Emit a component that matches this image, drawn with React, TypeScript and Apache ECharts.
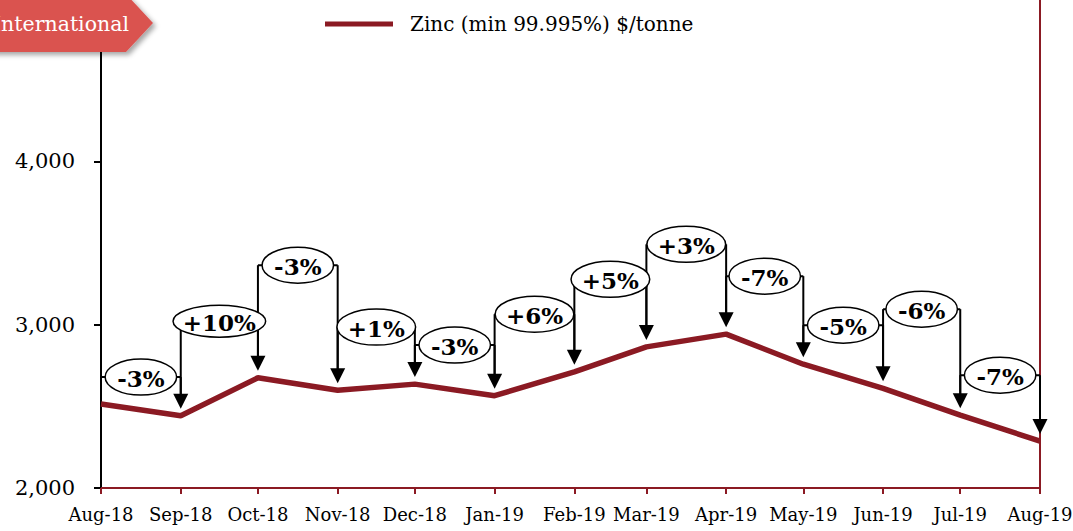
import React, { useEffect, useRef } from 'react';
import * as echarts from 'echarts';

// ---- data ----
const monthLabels = ['Aug-18', 'Sep-18', 'Oct-18', 'Nov-18', 'Dec-18', 'Jan-19', 'Feb-19', 'Mar-19', 'Apr-19', 'May-19', 'Jun-19', 'Jul-19', 'Aug-19'];
const monthYear: [number, number][] = [
  [2018, 7], [2018, 8], [2018, 9], [2018, 10], [2018, 11], [2019, 0], [2019, 1],
  [2019, 2], [2019, 3], [2019, 4], [2019, 5], [2019, 6], [2019, 7],
];
const zincPrices = [2514, 2442, 2675, 2599, 2636, 2565, 2711, 2864, 2942, 2758, 2610, 2446, 2287];
const changeLabels = ['-3%', '+10%', '-3%', '+1%', '-3%', '+6%', '+5%', '+3%', '-7%', '-5%', '-6%', '-7%'];
const bracketLevels = [2679, 3021, 3364, 2985, 2875, 3064, 3278, 3492, 3297, 2997, 3095, 2691];
const yTicks = [2000, 3000, 4000, 5000];
const seriesName = 'Zinc (min 99.995%) $/tonne';
const badgeText = 'International';

const DARK_RED = '#8B1A23';
const FONT = '"DejaVu Serif", Georgia, serif';

const dates = monthYear.map(([y, m]) => new Date(y, m, 1).getTime());

const charW: Record<string, number> = { '+': 0.838, '-': 0.478, '%': 1.0 };
function labelWidth(s: string, size: number) {
  let w = 0;
  for (const c of s) w += charW[c] ?? 0.696;
  return w * size;
}

export default function App() {
  const ref = useRef<HTMLDivElement>(null);
  useEffect(() => {
    document.body.style.margin = '0';
    if (!ref.current) return;
    const chart = echarts.init(ref.current, undefined, { renderer: 'svg' });
    const DAY = 24 * 3600 * 1000;
    const option: any = {
      animation: false,
      backgroundColor: '#fff',
      grid: { left: 101, right: 33, top: -2, bottom: 43, containLabel: false, outerBoundsMode: 'none' },
      legend: {
        data: [seriesName],
        left: 320,
        top: 9,
        icon: 'rect',
        itemWidth: 68,
        itemHeight: 5,
        textStyle: { fontFamily: FONT, fontSize: 20, color: '#000', padding: [0, 0, 0, 12] },
      },
      xAxis: {
        type: 'time',
        min: dates[0],
        max: dates[dates.length - 1],
        minInterval: 28 * DAY,
        maxInterval: 31 * DAY,
        splitNumber: 12,
        axisLine: { show: true, lineStyle: { color: DARK_RED, width: 2 } },
        axisTick: { show: true, length: 6, lineStyle: { color: DARK_RED, width: 2 } },
        splitLine: { show: false },
        axisLabel: {
          show: true,
          interval: 0,
          hideOverlap: false,
          showMinLabel: true,
          showMaxLabel: true,
          margin: 17,
          color: '#000',
          fontFamily: FONT,
          fontSize: 18,
          formatter: (v: number) => {
            let best = -1;
            let bd = Infinity;
            dates.forEach((d, i) => {
              const dd = Math.abs(d - v);
              if (dd < bd) { bd = dd; best = i; }
            });
            return bd < 3 * DAY ? monthLabels[best] : '';
          },
        },
      },
      yAxis: [
        {
          type: 'value',
          min: yTicks[0],
          max: yTicks[yTicks.length - 1],
          interval: yTicks[1] - yTicks[0],
          axisLine: { show: true, lineStyle: { color: '#000', width: 2 } },
          axisTick: { show: true, length: 7, lineStyle: { color: '#000', width: 2 } },
          splitLine: { show: false },
          axisLabel: {
            margin: 26,
            showMaxLabel: false,
            color: '#000',
            fontFamily: FONT,
            fontSize: 21,
            formatter: (v: number) => v.toLocaleString('en-US'),
          },
        },
        {
          type: 'value',
          position: 'right',
          min: yTicks[0],
          max: yTicks[yTicks.length - 1],
          axisLine: { show: true, lineStyle: { color: DARK_RED, width: 2 } },
          axisTick: { show: false },
          axisLabel: { show: false },
          splitLine: { show: false },
        },
      ],
      series: [
        {
          type: 'line',
          name: seriesName,
          data: dates.map((d, i) => [d, zincPrices[i]]),
          showSymbol: false,
          symbol: 'none',
          lineStyle: { color: DARK_RED, width: 5.5 },
          itemStyle: { color: DARK_RED },
          z: 2,
        },
        {
          type: 'custom',
          name: 'changes',
          clip: false,
          z: 5,
          encode: { x: [0, 1], y: [2, 3, 4] },
          data: changeLabels.map((_, k) => [dates[k], dates[k + 1], bracketLevels[k], zincPrices[k], zincPrices[k + 1]]),
          renderItem: (params: any, api: any) => {
            const k = params.dataIndex;
            const L = api.coord([api.value(0), api.value(2)]);
            const R = api.coord([api.value(1), api.value(2)]);
            const p0 = api.coord([api.value(0), api.value(3)]);
            const p1 = api.coord([api.value(1), api.value(4)]);
            const tipGap = 7;
            const ah = 15;
            const aw = 7.5;
            const ls = { stroke: '#000', lineWidth: 2 };
            const label = changeLabels[k];
            const fs = 23;
            const rx = (labelWidth(label, 20) + 28) / 2;
            const ry = label.length > 3 ? 16 : 18;
            const cx = (L[0] + R[0]) / 2;
            const children: any[] = [
              { type: 'line', z2: 1, shape: { x1: L[0], y1: L[1], x2: R[0], y2: R[1] }, style: ls },
              { type: 'line', z2: 1, shape: { x1: L[0], y1: L[1], x2: L[0], y2: p0[1] - tipGap - ah + 1 }, style: ls },
              { type: 'line', z2: 1, shape: { x1: R[0], y1: R[1], x2: R[0], y2: p1[1] - tipGap - ah + 1 }, style: ls },
              {
                type: 'polygon', z2: 2,
                shape: { points: [[R[0] - aw, p1[1] - tipGap - ah], [R[0] + aw, p1[1] - tipGap - ah], [R[0], p1[1] - tipGap]] },
                style: { fill: '#000' },
              },
              {
                type: 'ellipse', z2: 10,
                shape: { cx, cy: L[1], rx, ry },
                style: { fill: '#fff', stroke: '#000', lineWidth: 1.5 },
              },
              {
                type: 'text', z2: 11,
                x: cx, y: L[1] + 1,
                style: {
                  text: label, align: 'center', verticalAlign: 'middle',
                  fontFamily: FONT, fontWeight: 'bold', fontSize: fs, fill: '#000',
                },
              },
            ];
            return { type: 'group', children };
          },
        },
      ],
      graphic: [
        {
          type: 'polygon',
          z: 20,
          shape: { points: [[-10, -6], [126, -6], [153, 23], [126, 52], [-10, 52]] },
          style: {
            fill: '#DA5250',
            shadowBlur: 5,
            shadowOffsetX: 3,
            shadowOffsetY: 3,
            shadowColor: 'rgba(0,0,0,0.35)',
          },
        },
        {
          type: 'text',
          z: 21,
          x: 129,
          y: 24,
          style: {
            text: badgeText,
            fill: '#fff',
            fontFamily: FONT,
            fontSize: 20.5,
            align: 'right',
            verticalAlign: 'middle',
          },
        },
      ],
    };
    chart.setOption(option);
    return () => chart.dispose();
  }, []);
  return <div ref={ref} style={{ width: 1073, height: 531 }} />;
}
